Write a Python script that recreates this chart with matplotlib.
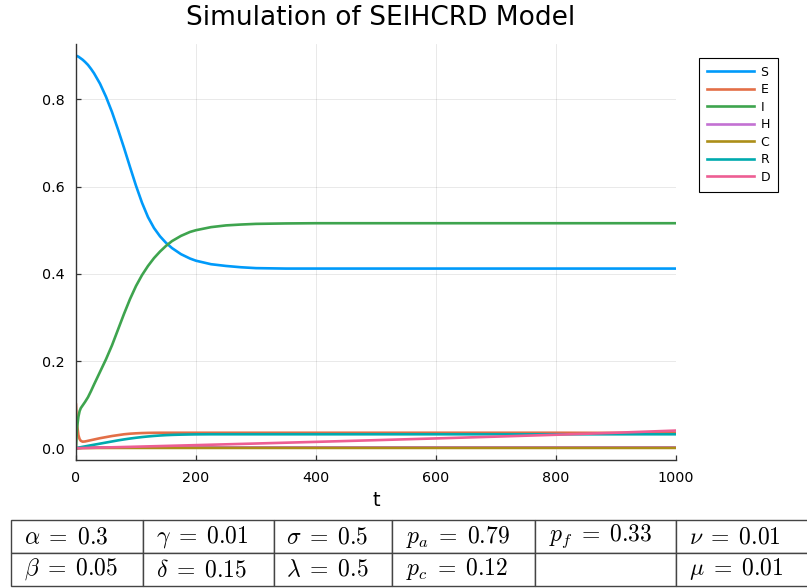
import numpy as np
import matplotlib
matplotlib.use("Agg")
import matplotlib.pyplot as plt

plt.rcParams['font.family'] = ['DejaVu Sans']
plt.rcParams['mathtext.fontset'] = 'cm'

# time grid of the solver output (days)
t = [0, 1, 2, 4, 6, 8, 11, 15, 20, 25, 30, 40, 50, 60, 70, 80, 90, 100, 110,
     120, 130, 140, 150, 160, 175, 190, 200, 225, 250, 275, 300, 350, 400, 500,
     600, 700, 800, 900, 1000]

S = [0.900, 0.900, 0.899, 0.898, 0.896, 0.894, 0.891, 0.886, 0.879, 0.870,
     0.860, 0.836, 0.806, 0.771, 0.731, 0.689, 0.645, 0.602, 0.563, 0.530,
     0.505, 0.486, 0.471, 0.459, 0.445, 0.435, 0.430, 0.422, 0.418, 0.415,
     0.413, 0.412, 0.412, 0.412, 0.412, 0.412, 0.412, 0.412, 0.412]
E = [0.100, 0.072, 0.052, 0.030, 0.021, 0.017, 0.015, 0.0155, 0.017, 0.0185,
     0.020, 0.023, 0.0255, 0.028, 0.030, 0.032, 0.0333, 0.0342, 0.0348, 0.0352,
     0.0354, 0.0355, 0.0355, 0.0355, 0.0355, 0.0355, 0.0355, 0.0355, 0.0355,
     0.0355, 0.0355, 0.0355, 0.0355, 0.0355, 0.0355, 0.0355, 0.0355, 0.0352,
     0.035]
I = [0.000, 0.030, 0.050, 0.072, 0.085, 0.092, 0.098, 0.106, 0.117, 0.131,
     0.146, 0.175, 0.204, 0.236, 0.272, 0.308, 0.342, 0.372, 0.397, 0.418,
     0.436, 0.451, 0.464, 0.475, 0.487, 0.496, 0.500, 0.507, 0.511, 0.513,
     0.5145, 0.5155, 0.516, 0.516, 0.516, 0.516, 0.516, 0.516, 0.516]
R = [0.000, 0.0003, 0.0006, 0.0012, 0.0018, 0.0024, 0.0032, 0.0042, 0.0055,
     0.0068, 0.008, 0.0105, 0.013, 0.0155, 0.018, 0.0202, 0.0222, 0.024,
     0.0256, 0.027, 0.0282, 0.0292, 0.030, 0.0306, 0.0312, 0.0316, 0.0318,
     0.032, 0.032, 0.032, 0.032, 0.032, 0.032, 0.032, 0.032, 0.032, 0.032,
     0.032, 0.032]

# slow compartments, sampled coarser
t_slow = [0, 10, 30, 60, 100, 200, 300, 400, 500, 600, 700, 800, 900, 1000]
H = [0.0, 0.0012, 0.0018, 0.002, 0.002, 0.002, 0.002, 0.002, 0.002, 0.002,
     0.002, 0.002, 0.002, 0.002]
C = [0.0, 0.0004, 0.0006, 0.0007, 0.0007, 0.0007, 0.0007, 0.0007, 0.0007,
     0.0007, 0.0007, 0.0007, 0.0007, 0.0007]
D = [0.0, 0.0003, 0.0011, 0.0021, 0.0035, 0.0071, 0.0108, 0.0146, 0.0185,
     0.0225, 0.0266, 0.0309, 0.0355, 0.0405]

series = [("S", t, S, "#009AFA"),
          ("E", t, E, "#E36F47"),
          ("I", t, I, "#3EA44E"),
          ("H", t_slow, H, "#C371D2"),
          ("C", t_slow, C, "#AC8E18"),
          ("R", t, R, "#00AAAE"),
          ("D", t_slow, D, "#ED5E93")]

# model parameters shown under the plot
row1 = [r"$\alpha \;=\; 0.3$", r"$\gamma \;=\; 0.01$", r"$\sigma \;=\; 0.5$",
        r"$p_a \;=\; 0.79$", r"$p_f \;=\; 0.33$", r"$\nu \;=\; 0.01$"]
row2 = [r"$\beta \;=\; 0.05$", r"$\delta \;=\; 0.15$", r"$\lambda \;=\; 0.5$",
        r"$p_c \;=\; 0.12$", "", r"$\mu \;=\; 0.01$"]

W, Hpx = 807, 588
fig = plt.figure(figsize=(W / 100, Hpx / 100), dpi=100)
ax = fig.add_axes([76 / W, 1 - 460 / Hpx, 600 / W, 416 / Hpx])

for name, tt, yy, col in series:
    ax.plot(tt, yy, color=col, lw=1.9, label=name)

ax.set_xlim(0, 1000)
ax.set_ylim(-0.027, 0.927)
ax.set_xticks([0, 200, 400, 600, 800, 1000])
ax.set_yticks([0.0, 0.2, 0.4, 0.6, 0.8])
ax.set_yticklabels(["0.0", "0.2", "0.4", "0.6", "0.8"])
ax.grid(True, color="black", alpha=0.1, lw=0.6)
ax.spines["top"].set_visible(False)
ax.spines["right"].set_visible(False)
for sp in ("left", "bottom"):
    ax.spines[sp].set_color("#333333")
    ax.spines[sp].set_linewidth(1.0)
ax.tick_params(direction="in", length=3.5, width=0.9, color="#333333",
               labelsize=10.3, pad=8)
ax.set_xlabel("t", fontsize=14, labelpad=4)

fig.text(381 / W, 1 - 18 / Hpx, "Simulation of SEIHCRD Model",
         fontsize=19, ha="center", va="center")

leg = fig.legend(loc="upper left", bbox_to_anchor=(699 / W, 1 - 58 / Hpx),
                 fontsize=9, handlelength=3.8, handletextpad=0.5,
                 labelspacing=0.36, borderpad=0.62, borderaxespad=0,
                 fancybox=False, framealpha=1, edgecolor="black")
leg.get_frame().set_linewidth(0.8)

# parameter table
tax = fig.add_axes([0, 0, 1, 1])
tax.axis("off")
col_px = [132, 131, 118, 143, 141, 134]
tot = sum(col_px)
tab = tax.table(cellText=[row1, row2], cellLoc="left",
                colWidths=[c / tot for c in col_px],
                bbox=[11 / W, 1 - 586 / Hpx, tot / W, 66 / Hpx])
tab.auto_set_font_size(False)
tab.set_fontsize(17)
for cell in tab.get_celld().values():
    cell.set_edgecolor("#444444")
    cell.set_linewidth(1.0)

fig.savefig("out.png", dpi=100)
